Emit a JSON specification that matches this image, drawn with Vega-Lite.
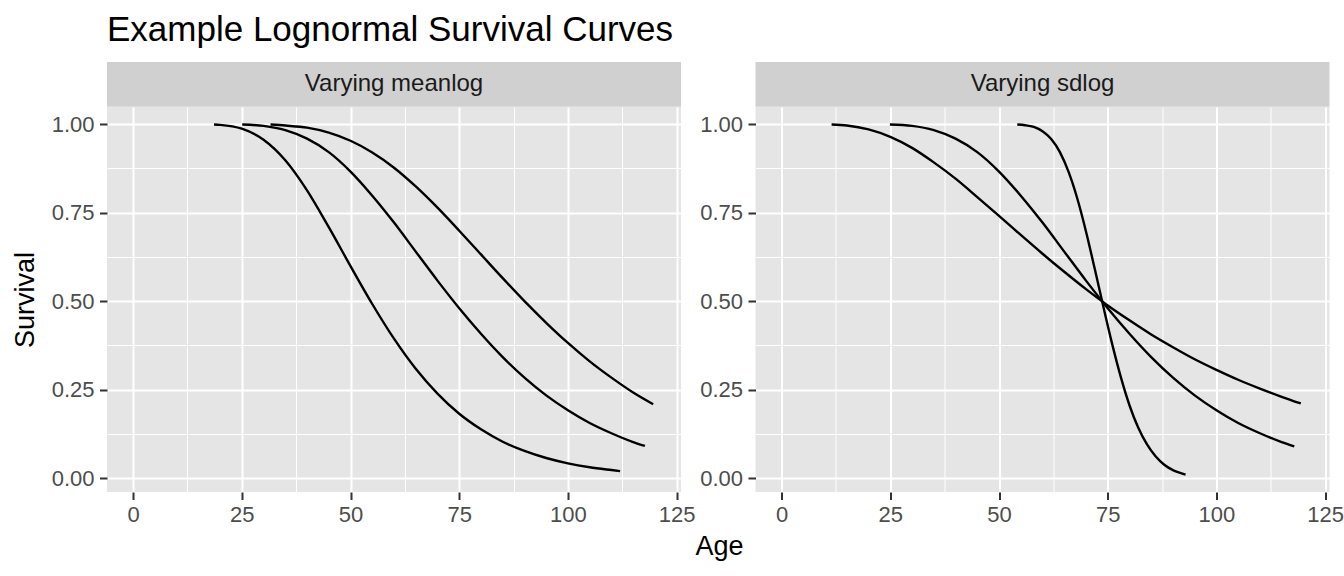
{
  "$schema": "https://vega.github.io/schema/vega-lite/v6.json",
  "background": "#ffffff",
  "padding": {"left": 11, "top": 13, "right": 10, "bottom": 10},
  "title": {
    "text": "Example Lognormal Survival Curves",
    "anchor": "start",
    "frame": "group",
    "font": "Liberation Sans",
    "fontSize": 35,
    "fontWeight": "normal",
    "color": "#000000",
    "offset": 14
  },
  "config": {
    "font": "Liberation Sans",
    "view": {"stroke": null},
    "axis": {
      "domain": false,
      "grid": true,
      "gridColor": "#ffffff",
      "tickColor": "#333333",
      "tickWidth": 2,
      "tickSize": 7.5,
      "labelColor": "#4D4D4D",
      "labelFont": "Liberation Sans",
      "labelFontSize": 22,
      "labelOverlap": false,
      "labelFlush": false,
      "titleFont": "Liberation Sans",
      "titleFontSize": 27,
      "titleFontWeight": "normal",
      "titleColor": "#000000"
    }
  },
  "datasets": {
    "curves": [
      {"panel": "Varying meanlog", "series": "meanlog = 4", "age": 18.6, "survival": 0.999},
      {"panel": "Varying meanlog", "series": "meanlog = 4", "age": 20, "survival": 0.998},
      {"panel": "Varying meanlog", "series": "meanlog = 4", "age": 25, "survival": 0.987},
      {"panel": "Varying meanlog", "series": "meanlog = 4", "age": 30, "survival": 0.956},
      {"panel": "Varying meanlog", "series": "meanlog = 4", "age": 35, "survival": 0.898},
      {"panel": "Varying meanlog", "series": "meanlog = 4", "age": 40, "survival": 0.813},
      {"panel": "Varying meanlog", "series": "meanlog = 4", "age": 45, "survival": 0.709},
      {"panel": "Varying meanlog", "series": "meanlog = 4", "age": 50, "survival": 0.599},
      {"panel": "Varying meanlog", "series": "meanlog = 4", "age": 55, "survival": 0.492},
      {"panel": "Varying meanlog", "series": "meanlog = 4", "age": 60, "survival": 0.394},
      {"panel": "Varying meanlog", "series": "meanlog = 4", "age": 65, "survival": 0.309},
      {"panel": "Varying meanlog", "series": "meanlog = 4", "age": 70, "survival": 0.239},
      {"panel": "Varying meanlog", "series": "meanlog = 4", "age": 75, "survival": 0.182},
      {"panel": "Varying meanlog", "series": "meanlog = 4", "age": 80, "survival": 0.138},
      {"panel": "Varying meanlog", "series": "meanlog = 4", "age": 85, "survival": 0.103},
      {"panel": "Varying meanlog", "series": "meanlog = 4", "age": 90, "survival": 0.077},
      {"panel": "Varying meanlog", "series": "meanlog = 4", "age": 95, "survival": 0.057},
      {"panel": "Varying meanlog", "series": "meanlog = 4", "age": 100, "survival": 0.042},
      {"panel": "Varying meanlog", "series": "meanlog = 4", "age": 105, "survival": 0.031},
      {"panel": "Varying meanlog", "series": "meanlog = 4", "age": 110, "survival": 0.023},
      {"panel": "Varying meanlog", "series": "meanlog = 4", "age": 112, "survival": 0.020},
      {"panel": "Varying meanlog", "series": "meanlog = 4.3", "age": 25.1, "survival": 0.999},
      {"panel": "Varying meanlog", "series": "meanlog = 4.3", "age": 30, "survival": 0.995},
      {"panel": "Varying meanlog", "series": "meanlog = 4.3", "age": 35, "survival": 0.983},
      {"panel": "Varying meanlog", "series": "meanlog = 4.3", "age": 40, "survival": 0.959},
      {"panel": "Varying meanlog", "series": "meanlog = 4.3", "age": 45, "survival": 0.921},
      {"panel": "Varying meanlog", "series": "meanlog = 4.3", "age": 50, "survival": 0.866},
      {"panel": "Varying meanlog", "series": "meanlog = 4.3", "age": 55, "survival": 0.798},
      {"panel": "Varying meanlog", "series": "meanlog = 4.3", "age": 60, "survival": 0.722},
      {"panel": "Varying meanlog", "series": "meanlog = 4.3", "age": 65, "survival": 0.640},
      {"panel": "Varying meanlog", "series": "meanlog = 4.3", "age": 70, "survival": 0.558},
      {"panel": "Varying meanlog", "series": "meanlog = 4.3", "age": 75, "survival": 0.480},
      {"panel": "Varying meanlog", "series": "meanlog = 4.3", "age": 80, "survival": 0.408},
      {"panel": "Varying meanlog", "series": "meanlog = 4.3", "age": 85, "survival": 0.342},
      {"panel": "Varying meanlog", "series": "meanlog = 4.3", "age": 90, "survival": 0.284},
      {"panel": "Varying meanlog", "series": "meanlog = 4.3", "age": 95, "survival": 0.234},
      {"panel": "Varying meanlog", "series": "meanlog = 4.3", "age": 100, "survival": 0.192},
      {"panel": "Varying meanlog", "series": "meanlog = 4.3", "age": 105, "survival": 0.156},
      {"panel": "Varying meanlog", "series": "meanlog = 4.3", "age": 110, "survival": 0.127},
      {"panel": "Varying meanlog", "series": "meanlog = 4.3", "age": 115, "survival": 0.102},
      {"panel": "Varying meanlog", "series": "meanlog = 4.3", "age": 117.7, "survival": 0.091},
      {"panel": "Varying meanlog", "series": "meanlog = 4.5", "age": 31.6, "survival": 0.999},
      {"panel": "Varying meanlog", "series": "meanlog = 4.5", "age": 35, "survival": 0.996},
      {"panel": "Varying meanlog", "series": "meanlog = 4.5", "age": 40, "survival": 0.990},
      {"panel": "Varying meanlog", "series": "meanlog = 4.5", "age": 45, "survival": 0.976},
      {"panel": "Varying meanlog", "series": "meanlog = 4.5", "age": 50, "survival": 0.953},
      {"panel": "Varying meanlog", "series": "meanlog = 4.5", "age": 55, "survival": 0.920},
      {"panel": "Varying meanlog", "series": "meanlog = 4.5", "age": 60, "survival": 0.877},
      {"panel": "Varying meanlog", "series": "meanlog = 4.5", "age": 65, "survival": 0.824},
      {"panel": "Varying meanlog", "series": "meanlog = 4.5", "age": 70, "survival": 0.764},
      {"panel": "Varying meanlog", "series": "meanlog = 4.5", "age": 75, "survival": 0.699},
      {"panel": "Varying meanlog", "series": "meanlog = 4.5", "age": 80, "survival": 0.632},
      {"panel": "Varying meanlog", "series": "meanlog = 4.5", "age": 85, "survival": 0.565},
      {"panel": "Varying meanlog", "series": "meanlog = 4.5", "age": 90, "survival": 0.500},
      {"panel": "Varying meanlog", "series": "meanlog = 4.5", "age": 95, "survival": 0.439},
      {"panel": "Varying meanlog", "series": "meanlog = 4.5", "age": 100, "survival": 0.382},
      {"panel": "Varying meanlog", "series": "meanlog = 4.5", "age": 105, "survival": 0.330},
      {"panel": "Varying meanlog", "series": "meanlog = 4.5", "age": 110, "survival": 0.284},
      {"panel": "Varying meanlog", "series": "meanlog = 4.5", "age": 115, "survival": 0.242},
      {"panel": "Varying meanlog", "series": "meanlog = 4.5", "age": 119.6, "survival": 0.209},
      {"panel": "Varying sdlog", "series": "sdlog = 0.1", "age": 54.2, "survival": 0.999},
      {"panel": "Varying sdlog", "series": "sdlog = 0.1", "age": 56, "survival": 0.997},
      {"panel": "Varying sdlog", "series": "sdlog = 0.1", "age": 58, "survival": 0.992},
      {"panel": "Varying sdlog", "series": "sdlog = 0.1", "age": 60, "survival": 0.980},
      {"panel": "Varying sdlog", "series": "sdlog = 0.1", "age": 62, "survival": 0.958},
      {"panel": "Varying sdlog", "series": "sdlog = 0.1", "age": 64, "survival": 0.921},
      {"panel": "Varying sdlog", "series": "sdlog = 0.1", "age": 66, "survival": 0.865},
      {"panel": "Varying sdlog", "series": "sdlog = 0.1", "age": 68, "survival": 0.790},
      {"panel": "Varying sdlog", "series": "sdlog = 0.1", "age": 70, "survival": 0.697},
      {"panel": "Varying sdlog", "series": "sdlog = 0.1", "age": 72, "survival": 0.592},
      {"panel": "Varying sdlog", "series": "sdlog = 0.1", "age": 74, "survival": 0.484},
      {"panel": "Varying sdlog", "series": "sdlog = 0.1", "age": 76, "survival": 0.380},
      {"panel": "Varying sdlog", "series": "sdlog = 0.1", "age": 78, "survival": 0.286},
      {"panel": "Varying sdlog", "series": "sdlog = 0.1", "age": 80, "survival": 0.206},
      {"panel": "Varying sdlog", "series": "sdlog = 0.1", "age": 82, "survival": 0.143},
      {"panel": "Varying sdlog", "series": "sdlog = 0.1", "age": 84, "survival": 0.096},
      {"panel": "Varying sdlog", "series": "sdlog = 0.1", "age": 86, "survival": 0.062},
      {"panel": "Varying sdlog", "series": "sdlog = 0.1", "age": 88, "survival": 0.038},
      {"panel": "Varying sdlog", "series": "sdlog = 0.1", "age": 90, "survival": 0.023},
      {"panel": "Varying sdlog", "series": "sdlog = 0.1", "age": 91, "survival": 0.018},
      {"panel": "Varying sdlog", "series": "sdlog = 0.1", "age": 92.9, "survival": 0.010},
      {"panel": "Varying sdlog", "series": "sdlog = 0.35", "age": 24.9, "survival": 0.999},
      {"panel": "Varying sdlog", "series": "sdlog = 0.35", "age": 30, "survival": 0.995},
      {"panel": "Varying sdlog", "series": "sdlog = 0.35", "age": 35, "survival": 0.983},
      {"panel": "Varying sdlog", "series": "sdlog = 0.35", "age": 40, "survival": 0.959},
      {"panel": "Varying sdlog", "series": "sdlog = 0.35", "age": 45, "survival": 0.921},
      {"panel": "Varying sdlog", "series": "sdlog = 0.35", "age": 50, "survival": 0.866},
      {"panel": "Varying sdlog", "series": "sdlog = 0.35", "age": 55, "survival": 0.798},
      {"panel": "Varying sdlog", "series": "sdlog = 0.35", "age": 60, "survival": 0.722},
      {"panel": "Varying sdlog", "series": "sdlog = 0.35", "age": 65, "survival": 0.640},
      {"panel": "Varying sdlog", "series": "sdlog = 0.35", "age": 70, "survival": 0.558},
      {"panel": "Varying sdlog", "series": "sdlog = 0.35", "age": 75, "survival": 0.480},
      {"panel": "Varying sdlog", "series": "sdlog = 0.35", "age": 80, "survival": 0.408},
      {"panel": "Varying sdlog", "series": "sdlog = 0.35", "age": 85, "survival": 0.342},
      {"panel": "Varying sdlog", "series": "sdlog = 0.35", "age": 90, "survival": 0.284},
      {"panel": "Varying sdlog", "series": "sdlog = 0.35", "age": 95, "survival": 0.234},
      {"panel": "Varying sdlog", "series": "sdlog = 0.35", "age": 100, "survival": 0.192},
      {"panel": "Varying sdlog", "series": "sdlog = 0.35", "age": 105, "survival": 0.156},
      {"panel": "Varying sdlog", "series": "sdlog = 0.35", "age": 110, "survival": 0.127},
      {"panel": "Varying sdlog", "series": "sdlog = 0.35", "age": 115, "survival": 0.102},
      {"panel": "Varying sdlog", "series": "sdlog = 0.35", "age": 117.9, "survival": 0.090},
      {"panel": "Varying sdlog", "series": "sdlog = 0.6", "age": 11.5, "survival": 0.999},
      {"panel": "Varying sdlog", "series": "sdlog = 0.6", "age": 15, "survival": 0.996},
      {"panel": "Varying sdlog", "series": "sdlog = 0.6", "age": 20, "survival": 0.985},
      {"panel": "Varying sdlog", "series": "sdlog = 0.6", "age": 25, "survival": 0.964},
      {"panel": "Varying sdlog", "series": "sdlog = 0.6", "age": 30, "survival": 0.933},
      {"panel": "Varying sdlog", "series": "sdlog = 0.6", "age": 35, "survival": 0.892},
      {"panel": "Varying sdlog", "series": "sdlog = 0.6", "age": 40, "survival": 0.846},
      {"panel": "Varying sdlog", "series": "sdlog = 0.6", "age": 45, "survival": 0.794},
      {"panel": "Varying sdlog", "series": "sdlog = 0.6", "age": 50, "survival": 0.741},
      {"panel": "Varying sdlog", "series": "sdlog = 0.6", "age": 55, "survival": 0.687},
      {"panel": "Varying sdlog", "series": "sdlog = 0.6", "age": 60, "survival": 0.634},
      {"panel": "Varying sdlog", "series": "sdlog = 0.6", "age": 65, "survival": 0.583},
      {"panel": "Varying sdlog", "series": "sdlog = 0.6", "age": 70, "survival": 0.534},
      {"panel": "Varying sdlog", "series": "sdlog = 0.6", "age": 75, "survival": 0.488},
      {"panel": "Varying sdlog", "series": "sdlog = 0.6", "age": 80, "survival": 0.446},
      {"panel": "Varying sdlog", "series": "sdlog = 0.6", "age": 85, "survival": 0.406},
      {"panel": "Varying sdlog", "series": "sdlog = 0.6", "age": 90, "survival": 0.370},
      {"panel": "Varying sdlog", "series": "sdlog = 0.6", "age": 95, "survival": 0.336},
      {"panel": "Varying sdlog", "series": "sdlog = 0.6", "age": 100, "survival": 0.306},
      {"panel": "Varying sdlog", "series": "sdlog = 0.6", "age": 105, "survival": 0.278},
      {"panel": "Varying sdlog", "series": "sdlog = 0.6", "age": 110, "survival": 0.253},
      {"panel": "Varying sdlog", "series": "sdlog = 0.6", "age": 115, "survival": 0.230},
      {"panel": "Varying sdlog", "series": "sdlog = 0.6", "age": 119.4, "survival": 0.211}
    ]
  },
  "spacing": -1.5,
  "hconcat": [
    {
      "bounds": "flush",
      "spacing": 0,
      "vconcat": [
        {
          "width": 574,
          "height": 44.7,
          "view": {"fill": "#D0D0D0", "stroke": null},
          "data": {"values": [{"label": "Varying meanlog"}]},
          "mark": {"type": "text", "fontSize": 24, "color": "#1A1A1A", "align": "center", "baseline": "middle"},
          "encoding": {"text": {"field": "label", "type": "nominal"}}
        },
        {
          "width": 574,
          "height": 385,
          "view": {"fill": "#E5E5E5", "stroke": null},
          "data": {"name": "curves"},
          "transform": [{"filter": "datum.panel === 'Varying meanlog'"}],
          "mark": {"type": "line", "color": "#000000", "strokeWidth": 2.4, "interpolate": "monotone"},
          "encoding": {
            "x": {
              "field": "age",
              "type": "quantitative",
              "scale": {"domain": [-6, 126], "nice": false, "zero": false},
              "axis": {
                "title": null,
                "values": [0, 12.5, 25, 37.5, 50, 62.5, 75, 87.5, 100, 112.5, 125],
                "labelExpr": "datum.value % 25 === 0 ? datum.label : ''",
                "labelPadding": 4.5,
                "gridWidth": {"condition": {"test": "datum.value % 25 === 0", "value": 2}, "value": 1},
                "tickOpacity": {"condition": {"test": "datum.value % 25 === 0", "value": 1}, "value": 0}
              }
            },
            "y": {
              "field": "survival",
              "type": "quantitative",
              "scale": {"domain": [-0.039, 1.0484], "nice": false, "zero": false},
              "axis": {
                "title": "Survival",
                "titlePadding": 12,
                "values": [0, 0.125, 0.25, 0.375, 0.5, 0.625, 0.75, 0.875, 1],
                "format": ".2f",
                "labelExpr": "(datum.value * 8) % 2 === 0 ? datum.label : ''",
                "labelPadding": 5.5,
                "gridWidth": {"condition": {"test": "(datum.value * 8) % 2 === 0", "value": 2}, "value": 1},
                "tickOpacity": {"condition": {"test": "(datum.value * 8) % 2 === 0", "value": 1}, "value": 0}
              }
            },
            "detail": {"field": "series", "type": "nominal"}
          }
        }
      ]
    },
    {
      "bounds": "flush",
      "spacing": 0,
      "vconcat": [
        {
          "width": 574,
          "height": 44.7,
          "view": {"fill": "#D0D0D0", "stroke": null},
          "data": {"values": [{"label": "Varying sdlog"}]},
          "mark": {"type": "text", "fontSize": 24, "color": "#1A1A1A", "align": "center", "baseline": "middle"},
          "encoding": {"text": {"field": "label", "type": "nominal"}}
        },
        {
          "width": 574,
          "height": 385,
          "view": {"fill": "#E5E5E5", "stroke": null},
          "data": {"name": "curves"},
          "transform": [{"filter": "datum.panel === 'Varying sdlog'"}],
          "mark": {"type": "line", "color": "#000000", "strokeWidth": 2.4, "interpolate": "monotone"},
          "encoding": {
            "x": {
              "field": "age",
              "type": "quantitative",
              "scale": {"domain": [-6, 126], "nice": false, "zero": false},
              "axis": {
                "title": "Age",
                "titleX": -36.5,
                "titlePadding": 8,
                "values": [0, 12.5, 25, 37.5, 50, 62.5, 75, 87.5, 100, 112.5, 125],
                "labelExpr": "datum.value % 25 === 0 ? datum.label : ''",
                "labelPadding": 4.5,
                "gridWidth": {"condition": {"test": "datum.value % 25 === 0", "value": 2}, "value": 1},
                "tickOpacity": {"condition": {"test": "datum.value % 25 === 0", "value": 1}, "value": 0}
              }
            },
            "y": {
              "field": "survival",
              "type": "quantitative",
              "scale": {"domain": [-0.039, 1.0484], "nice": false, "zero": false},
              "axis": {
                "title": null,
                "values": [0, 0.125, 0.25, 0.375, 0.5, 0.625, 0.75, 0.875, 1],
                "format": ".2f",
                "labelExpr": "(datum.value * 8) % 2 === 0 ? datum.label : ''",
                "labelPadding": 5.5,
                "gridWidth": {"condition": {"test": "(datum.value * 8) % 2 === 0", "value": 2}, "value": 1},
                "tickOpacity": {"condition": {"test": "(datum.value * 8) % 2 === 0", "value": 1}, "value": 0}
              }
            },
            "detail": {"field": "series", "type": "nominal"}
          }
        }
      ]
    }
  ]
}
